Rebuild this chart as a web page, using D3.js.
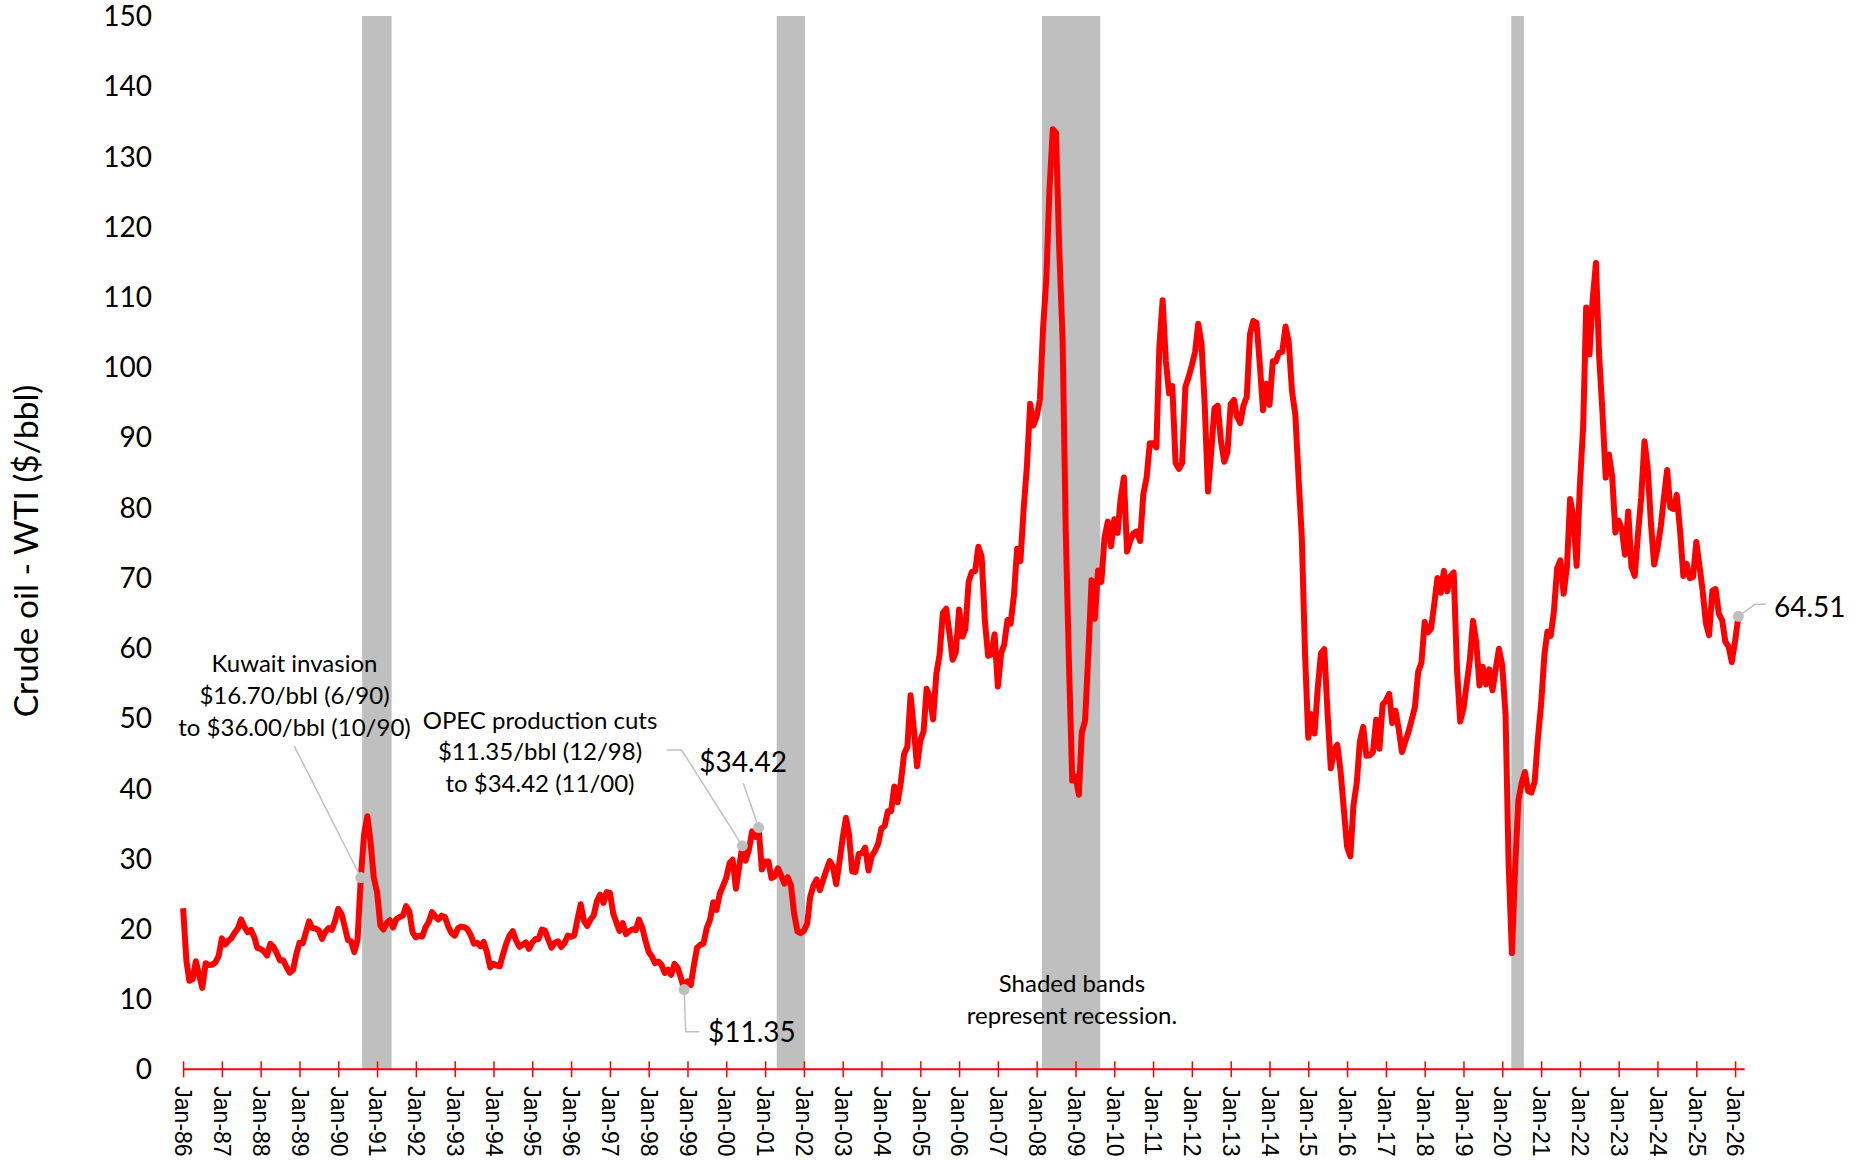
<!DOCTYPE html>
<meta charset="utf-8">
<style>
body { margin: 0; background: #fff; }
svg text { font-family: Lato, "Open Sans", sans-serif; fill: #000; }
.xaxis text { font-family: "Liberation Sans", Arial, sans-serif; font-size: 23px; fill: #000; }
</style>
<svg width="1862" height="1161"></svg>
<script src="https://d3js.org/d3.v7.min.js"></script>
<script>
// monthly WTI crude oil spot price ($/bbl), first value is Jan 1986
var firstMonth = "1986-01";
var wti = [
  22.93, 15.46, 12.61, 12.84, 15.38, 13.43, 11.59, 15.10, 14.87, 14.90, 15.22, 16.11, // 1986
  18.65, 17.75, 18.30, 18.68, 19.44, 20.07, 21.34, 20.31, 19.53, 19.86, 18.85, 17.28, // 1987
  17.13, 16.80, 16.20, 17.86, 17.42, 16.53, 15.50, 15.52, 14.54, 13.77, 14.14, 16.38, // 1988
  18.02, 17.94, 19.48, 21.07, 20.12, 20.05, 19.78, 18.58, 19.59, 20.10, 19.86, 21.10, // 1989
  22.86, 22.11, 20.39, 18.43, 18.20, 16.70, 18.45, 27.31, 33.51, 36.04, 32.33, 27.28, // 1990
  25.23, 20.48, 19.90, 20.83, 21.23, 20.19, 21.40, 21.69, 21.89, 23.23, 22.46, 19.50, // 1991
  18.79, 19.01, 18.92, 20.23, 20.98, 22.39, 21.78, 21.34, 21.88, 21.69, 20.34, 19.41, // 1992
  19.03, 20.09, 20.32, 20.25, 19.95, 19.09, 17.89, 18.01, 17.50, 18.15, 16.61, 14.52, // 1993
  15.03, 14.78, 14.68, 16.42, 17.89, 19.06, 19.66, 18.38, 17.45, 17.72, 18.07, 17.16, // 1994
  18.04, 18.57, 18.54, 19.90, 19.74, 18.45, 17.33, 18.02, 18.23, 17.43, 17.99, 19.03, // 1995
  18.86, 19.09, 21.33, 23.50, 21.17, 20.42, 21.30, 21.90, 23.97, 24.88, 23.71, 25.23, // 1996
  25.13, 22.18, 20.97, 19.70, 20.82, 19.26, 19.66, 19.95, 19.80, 21.33, 20.19, 18.33, // 1997
  16.72, 16.06, 15.12, 15.35, 14.91, 13.72, 14.17, 13.47, 15.03, 14.46, 13.00, 11.35, // 1998
  12.52, 12.01, 14.68, 17.31, 17.72, 17.92, 20.10, 21.28, 23.80, 22.69, 25.00, 26.10, // 1999
  27.26, 29.37, 29.84, 25.72, 28.79, 31.82, 29.70, 31.26, 33.88, 33.11, 34.42, 28.44, // 2000
  29.59, 29.61, 27.24, 27.49, 28.63, 27.60, 26.43, 27.37, 26.20, 22.17, 19.64, 19.39, // 2001
  19.72, 20.72, 24.53, 26.18, 27.04, 25.52, 26.97, 28.39, 29.66, 28.84, 26.35, 29.46, // 2002
  32.95, 35.83, 33.51, 28.17, 28.11, 30.66, 30.76, 31.57, 28.31, 30.34, 31.11, 32.13, // 2003
  34.31, 34.69, 36.74, 36.75, 40.28, 38.03, 40.78, 44.90, 45.94, 53.28, 48.47, 43.15, // 2004
  46.84, 48.15, 54.19, 52.98, 49.83, 56.35, 59.00, 64.99, 65.59, 62.26, 58.32, 59.41, // 2005
  65.49, 61.63, 62.69, 69.44, 70.84, 70.95, 74.41, 73.04, 63.80, 58.89, 59.08, 61.96, // 2006
  54.51, 59.28, 60.44, 63.98, 63.46, 67.49, 74.12, 72.36, 79.92, 85.80, 94.77, 91.69, // 2007
  92.97, 95.39, 105.45, 112.58, 125.40, 133.88, 133.37, 116.67, 104.11, 76.61, 57.31, 41.12, // 2008
  41.71, 39.09, 47.94, 49.65, 59.03, 69.64, 64.15, 71.05, 69.41, 75.72, 77.99, 74.47, // 2009
  78.33, 76.39, 81.20, 84.29, 73.74, 75.34, 76.32, 76.60, 75.24, 81.89, 84.25, 89.15, // 2010
  89.17, 88.58, 102.86, 109.53, 100.90, 96.26, 97.30, 86.33, 85.52, 86.32, 97.16, 98.56, // 2011
  100.27, 102.20, 106.16, 103.32, 94.66, 82.30, 87.90, 94.13, 94.51, 89.49, 86.53, 87.86, // 2012
  94.76, 95.31, 92.94, 92.02, 94.51, 95.77, 104.67, 106.57, 106.29, 100.54, 93.86, 97.63, // 2013
  94.62, 100.82, 100.80, 102.07, 102.18, 105.79, 103.59, 96.54, 93.21, 84.40, 75.79, 59.29, // 2014
  47.22, 50.58, 47.82, 54.45, 59.27, 59.82, 50.90, 42.87, 45.48, 46.22, 42.44, 37.19, // 2015
  31.68, 30.32, 37.55, 40.75, 46.71, 48.76, 44.65, 44.72, 45.18, 49.78, 45.66, 51.97, // 2016
  52.50, 53.47, 49.33, 51.06, 48.48, 45.18, 46.63, 48.04, 49.82, 51.58, 56.64, 57.88, // 2017
  63.70, 62.23, 62.73, 66.25, 69.98, 67.87, 70.98, 68.06, 70.23, 70.75, 56.96, 49.52, // 2018
  51.38, 54.95, 58.15, 63.86, 60.83, 54.66, 57.35, 54.81, 56.95, 53.96, 57.03, 59.88, // 2019
  57.52, 50.54, 29.21, 16.55, 28.56, 38.31, 40.71, 42.34, 39.63, 39.40, 40.94, 47.02, // 2020
  52.00, 59.04, 62.33, 61.72, 65.17, 71.38, 72.49, 67.73, 71.54, 81.22, 78.65, 71.71, // 2021
  83.22, 91.64, 108.50, 101.78, 109.55, 114.84, 101.62, 93.67, 84.26, 87.55, 84.37, 76.44, // 2022
  78.12, 76.83, 73.28, 79.45, 71.58, 70.25, 76.07, 81.39, 89.43, 85.64, 77.69, 71.90, // 2023
  74.15, 77.25, 81.28, 85.35, 80.02, 79.77, 81.80, 76.68, 70.24, 71.99, 69.95, 70.12, // 2024
  75.10, 71.53, 68.24, 63.54, 61.83, 68.17, 68.39, 64.86, 63.96, 60.89, 60.20, 58.00, // 2025
  61.00, 64.51 // 2026
];

// shaded recession bands (start, end)
var recessionStart = ["1990-08-14", "2001-04-20", "2008-02-20", "2020-03-26"];
var recessionEnd   = ["1991-05-18", "2002-01-11", "2009-08-22", "2020-07-23"];

var yTicks = [0, 10, 20, 30, 40, 50, 60, 70, 80, 90, 100, 110, 120, 130, 140, 150];
var yTitle = "Crude oil - WTI ($/bbl)";

var kuwaitNote = ["Kuwait invasion", "$16.70/bbl (6/90)", "to $36.00/bbl (10/90)"];
var opecNote = ["OPEC production cuts", "$11.35/bbl (12/98)", "to $34.42 (11/00)"];
var bandNote = ["Shaded bands", "represent recession."];

// highlighted months and their labels
var calloutMonths = ["1990-08", "2000-06", "2000-11", "1998-12", "2026-02"];
var calloutLabels = ["", "", "$34.42", "$11.35", "64.51"];

var svg = d3.select("svg");
var parseMonth = d3.timeParse("%Y-%m");
var parseDay = d3.timeParse("%Y-%m-%d");

var start = parseMonth(firstMonth);
var series = wti.map(function(v, i) {
  return { date: d3.timeMonth.offset(start, i), value: v };
});
function valueAt(m) {
  var d = parseMonth(m);
  return series.find(function(s) { return +s.date === +d; });
}

var x = d3.scaleTime()
  .domain([new Date(1986, 0, 1), new Date(2026, 0, 1)])
  .range([183.1, 1735.1]);
var y = d3.scaleLinear()
  .domain([0, 150])
  .range([1069.3, 16]);

// recession bands
svg.append("g")
  .selectAll("rect")
  .data(recessionStart)
  .enter().append("rect")
    .attr("x", function(d) { return x(parseDay(d)); })
    .attr("width", function(d, i) { return x(parseDay(recessionEnd[i])) - x(parseDay(d)); })
    .attr("y", y(150))
    .attr("height", y(0) - y(150))
    .attr("fill", "#bfbfbf");

// y tick labels only (no axis line)
svg.append("g")
  .selectAll("text")
  .data(yTicks)
  .enter().append("text")
    .attr("x", 152)
    .attr("y", function(d) { return y(d); })
    .attr("dy", "0.36em")
    .attr("text-anchor", "end")
    .style("font-size", "28px")
    .text(function(d) { return d; });

svg.append("text")
  .attr("transform", "translate(26," + 551 + ") rotate(-90)")
  .attr("text-anchor", "middle")
  .attr("dy", "0.36em")
  .style("font-size", "33.5px")
  .text(yTitle);

// x axis: red line with ticks crossing it
var xAxis = d3.axisBottom(x)
  .ticks(d3.timeYear.every(1))
  .tickFormat(d3.timeFormat("%b-%y"))
  .tickSizeOuter(0);

var gx = svg.append("g")
  .attr("class", "xaxis")
  .attr("transform", "translate(0," + y(0) + ")")
  .call(xAxis);
gx.select(".domain").remove();
gx.selectAll(".tick line")
  .attr("y1", -8)
  .attr("y2", 8)
  .attr("stroke", "#ff0000")
  .attr("stroke-width", 1.5);
gx.selectAll(".tick text")
  .attr("transform", "rotate(90)")
  .attr("x", 17)
  .attr("y", 0)
  .attr("dy", "0.36em")
  .style("text-anchor", "start");
gx.append("line")
  .attr("x1", x.range()[0])
  .attr("x2", x(d3.timeMonth.offset(series[series.length - 1].date, 2)))
  .attr("stroke", "#ff0000")
  .attr("stroke-width", 2);

// price line
var line = d3.line()
  .x(function(d) { return x(d.date); })
  .y(function(d) { return y(d.value); });

svg.append("path")
  .datum(series)
  .attr("fill", "none")
  .attr("stroke", "#ff0000")
  .attr("stroke-width", 6)
  .attr("stroke-linejoin", "round")
  .attr("d", line);

// callouts: leader lines, dots, labels
var pts = calloutMonths.map(function(m) {
  var s = valueAt(m);
  return [x(s.date), y(s.value)];
});
var leaders = [
  [pts[0], [294.3, 746]],
  [pts[1], [681.7, 750], [666.7, 750]],
  [pts[2], [743.3, 783.3]],
  [pts[3], [685.7, 1031.7], [699.3, 1031.7]],
  [pts[4], [1755, 604.3], [1765.7, 604.3]]
];
svg.append("g")
  .selectAll("path")
  .data(leaders)
  .enter().append("path")
    .attr("d", d3.line())
    .attr("fill", "none")
    .attr("stroke", "#c0c0c0")
    .attr("stroke-width", 1.5);

svg.append("g")
  .selectAll("circle")
  .data(pts)
  .enter().append("circle")
    .attr("cx", function(d) { return d[0]; })
    .attr("cy", function(d) { return d[1]; })
    .attr("r", 5.5)
    .attr("fill", "#bfbfbf");

var labelPos = [null, null, [699.3, 762], [708, 1032], [1774, 606.7]];
svg.append("g")
  .selectAll("text")
  .data(calloutLabels.filter(function(d) { return d; }))
  .enter().append("text")
    .attr("x", function(d) { return labelPos[calloutLabels.indexOf(d)][0]; })
    .attr("y", function(d) { return labelPos[calloutLabels.indexOf(d)][1]; })
    .attr("dy", "0.36em")
    .style("font-size", "28px")
    .text(function(d) { return d; });

function noteBlock(lines, cx, firstY, step) {
  svg.append("g")
    .selectAll("text")
    .data(lines)
    .enter().append("text")
      .attr("x", cx)
      .attr("y", function(d, i) { return firstY + i * step; })
      .attr("dy", "0.36em")
      .attr("text-anchor", "middle")
      .style("font-size", "24px")
      .text(function(d) { return d; });
}
noteBlock(kuwaitNote, 294.5, 663, 32);
noteBlock(opecNote, 540, 720, 31.7);
noteBlock(bandNote, 1072, 983, 32);
</script>
</html>
